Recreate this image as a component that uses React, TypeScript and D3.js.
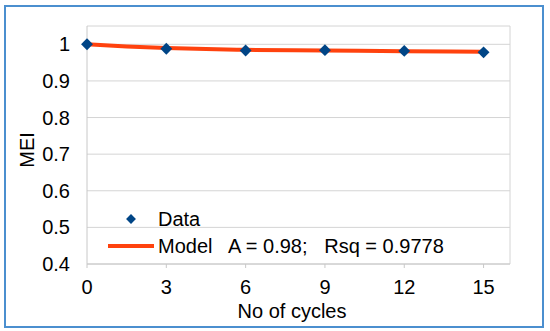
import * as d3 from "d3";

const width = 550,
  height = 331,
  marginTop = 26,
  marginRight = 40,
  marginBottom = 67,
  marginLeft = 87;

// measured points
const cycles = [0, 3, 6, 9, 12, 15];
const mei = [1.0, 0.988, 0.983, 0.984, 0.982, 0.978];

// fitted model curve
const modelX = [0, 1.5, 3, 4.5, 6, 9, 12, 15];
const modelY = [1.0, 0.994, 0.99, 0.987, 0.985, 0.983, 0.981, 0.98];

const xTicks = [0, 3, 6, 9, 12, 15];
const yTicks = [0.4, 0.5, 0.6, 0.7, 0.8, 0.9, 1];

const font = "'Liberation Sans', Arial, sans-serif";
const fs = 20;

export default function App() {
  const x = d3.scaleLinear([0, 16], [marginLeft, width - marginRight]);
  const y = d3.scaleLinear([0.4, 1.05], [height - marginBottom, marginTop]);

  const line = d3
    .line<number>()
    .x((d) => x(modelX[d]))
    .y((d) => y(modelY[d]))
    .curve(d3.curveMonotoneX);

  const diamond = d3.symbol(d3.symbolDiamond2, 90);
  const smallDiamond = d3.symbol(d3.symbolDiamond2, 62);

  const x0 = marginLeft,
    x1 = width - marginRight,
    y0 = height - marginBottom,
    y1 = marginTop;

  return (
    <svg
      width={width}
      height={height}
      viewBox={`0 0 ${width} ${height}`}
      style={{ position: "absolute", left: 0, top: 0, background: "#fff" }}
      fontFamily={font}
    >
      <rect x={5} y={6} width={538} height={321} fill="#fff" stroke="#4b8fcf" strokeWidth={2} />

      {/* grid */}
      {yTicks.map((t) => (
        <line key={t} x1={x0} x2={x1} y1={y(t)} y2={y(t)} stroke="#d4d4d4" strokeWidth={1} />
      ))}
      <line x1={x0} x2={x1} y1={y1} y2={y1} stroke="#d4d4d4" />
      <line x1={x1} x2={x1} y1={y1} y2={y0} stroke="#d4d4d4" />
      <line x1={x0} x2={x0} y1={y1} y2={y0} stroke="#c8c8c8" />
      <line x1={x0} x2={x1} y1={y0} y2={y0} stroke="#c8c8c8" />
      {xTicks.map((t) => (
        <line key={t} x1={x(t)} x2={x(t)} y1={y0} y2={y0 + 4} stroke="#c8c8c8" />
      ))}

      {/* tick labels */}
      {yTicks.map((t) => (
        <text key={t} x={x0 - 17} y={y(t)} dy="0.35em" textAnchor="end" fontSize={fs} fill="#000">
          {d3.format("")(t)}
        </text>
      ))}
      {xTicks.map((t) => (
        <text key={t} x={x(t)} y={287} dy="0.35em" textAnchor="middle" fontSize={fs} fill="#000">
          {t}
        </text>
      ))}

      {/* axis titles */}
      <text x={292} y={311} dy="0.35em" textAnchor="middle" fontSize={fs} fill="#000">
        No of cycles
      </text>
      <text
        transform={`translate(27,150) rotate(-90)`}
        dy="0.35em"
        textAnchor="middle"
        fontSize={fs}
        fill="#000"
      >
        MEI
      </text>

      {/* model line */}
      <path d={line(d3.range(modelX.length)) ?? ""} fill="none" stroke="#ff420e" strokeWidth={4} />

      {/* data */}
      {cycles.map((c, i) => (
        <path key={c} d={diamond() ?? ""} transform={`translate(${x(c)},${y(mei[i])})`} fill="#004586" />
      ))}

      {/* legend */}
      <path d={smallDiamond() ?? ""} transform="translate(131,219)" fill="#004586" />
      <text x={158} y={219} dy="0.35em" fontSize={fs} fill="#000">
        Data
      </text>
      <line x1={108} x2={154} y1={246} y2={246} stroke="#ff420e" strokeWidth={4} />
      <text x={158} y={246} dy="0.35em" fontSize={fs} fill="#000" style={{ whiteSpace: "pre" }}>
        {"Model   A = 0.98;   Rsq = 0.9778"}
      </text>
    </svg>
  );
}
